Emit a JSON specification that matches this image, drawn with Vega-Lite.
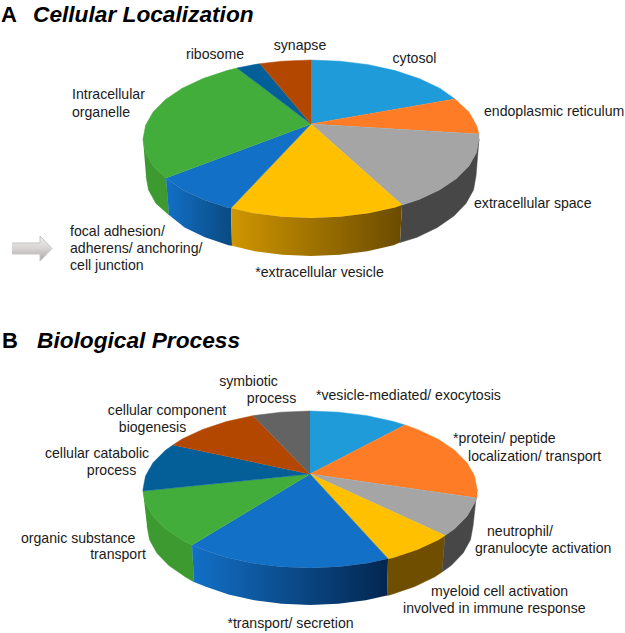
{"$schema":"https://vega.github.io/schema/vega-lite/v6.json","width":625,"height":633,"padding":0,"autosize":{"type":"fit","contains":"padding"},"background":"white","config":{"view":{"stroke":null}},
"datasets":{"shapes":[
{"part":"A green wall","i":1,"x":143,"y":139},{"part":"A green wall","i":2,"x":145.6,"y":152.7},{"part":"A green wall","i":3,"x":153.1,"y":166},{"part":"A green wall","i":4,"x":166,"y":178},{"part":"A green wall","i":5,"x":169,"y":215},{"part":"A green wall","i":6,"x":156,"y":203.4},{"part":"A green wall","i":7,"x":148.5,"y":189.9},{"part":"A green wall","i":8,"x":146,"y":176},
{"part":"A blue wall","i":1,"x":166,"y":178},{"part":"A blue wall","i":2,"x":182.3,"y":189.8},{"part":"A blue wall","i":3,"x":203,"y":199.5},{"part":"A blue wall","i":4,"x":227,"y":207.4},{"part":"A blue wall","i":5,"x":231,"y":208},{"part":"A blue wall","i":6,"x":232,"y":245.8},{"part":"A blue wall","i":7,"x":228.5,"y":245.3},{"part":"A blue wall","i":8,"x":204.9,"y":237.3},{"part":"A blue wall","i":9,"x":184.6,"y":227.4},{"part":"A blue wall","i":10,"x":169,"y":215},
{"part":"A yellow wall","i":1,"x":231,"y":208},{"part":"A yellow wall","i":2,"x":253.5,"y":213.3},{"part":"A yellow wall","i":3,"x":281.8,"y":216.8},{"part":"A yellow wall","i":4,"x":311,"y":218},{"part":"A yellow wall","i":5,"x":340.2,"y":216.8},{"part":"A yellow wall","i":6,"x":368.5,"y":213.3},{"part":"A yellow wall","i":7,"x":395,"y":207.4},{"part":"A yellow wall","i":8,"x":402,"y":205},{"part":"A yellow wall","i":9,"x":400,"y":242.5},{"part":"A yellow wall","i":10,"x":393.5,"y":245.3},{"part":"A yellow wall","i":11,"x":367.4,"y":251.2},{"part":"A yellow wall","i":12,"x":339.7,"y":254.8},{"part":"A yellow wall","i":13,"x":311,"y":256},{"part":"A yellow wall","i":14,"x":282.3,"y":254.8},{"part":"A yellow wall","i":15,"x":254.6,"y":251.2},{"part":"A yellow wall","i":16,"x":232,"y":245.8},
{"part":"A gray wall","i":1,"x":402,"y":205},{"part":"A gray wall","i":2,"x":419,"y":199.5},{"part":"A gray wall","i":3,"x":439.7,"y":189.8},{"part":"A gray wall","i":4,"x":456.5,"y":178.5},{"part":"A gray wall","i":5,"x":468.9,"y":166},{"part":"A gray wall","i":6,"x":476.4,"y":152.7},{"part":"A gray wall","i":7,"x":479,"y":139},{"part":"A gray wall","i":8,"x":476,"y":176},{"part":"A gray wall","i":9,"x":473.5,"y":189.9},{"part":"A gray wall","i":10,"x":466,"y":203.4},{"part":"A gray wall","i":11,"x":453.9,"y":216},{"part":"A gray wall","i":12,"x":437.4,"y":227.4},{"part":"A gray wall","i":13,"x":417.1,"y":237.3},{"part":"A gray wall","i":14,"x":400,"y":242.5},
{"part":"B green wall","i":1,"x":143,"y":491},{"part":"B green wall","i":2,"x":145.5,"y":503.1},{"part":"B green wall","i":3,"x":153,"y":516.3},{"part":"B green wall","i":4,"x":165.4,"y":528.7},{"part":"B green wall","i":5,"x":182.1,"y":540},{"part":"B green wall","i":6,"x":192,"y":545},{"part":"B green wall","i":7,"x":194,"y":582},{"part":"B green wall","i":8,"x":185.1,"y":576.8},{"part":"B green wall","i":9,"x":168.8,"y":565.5},{"part":"B green wall","i":10,"x":156.8,"y":553},{"part":"B green wall","i":11,"x":149.5,"y":539.7},{"part":"B green wall","i":12,"x":147,"y":526},
{"part":"B blue wall","i":1,"x":192,"y":545},{"part":"B blue wall","i":2,"x":202.7,"y":549.6},{"part":"B blue wall","i":3,"x":226.5,"y":557.5},{"part":"B blue wall","i":4,"x":252.9,"y":563.3},{"part":"B blue wall","i":5,"x":281,"y":566.8},{"part":"B blue wall","i":6,"x":310,"y":568},{"part":"B blue wall","i":7,"x":339,"y":566.8},{"part":"B blue wall","i":8,"x":367.1,"y":563.3},{"part":"B blue wall","i":9,"x":388,"y":558.8},{"part":"B blue wall","i":10,"x":387,"y":595.5},{"part":"B blue wall","i":11,"x":365.7,"y":600.2},{"part":"B blue wall","i":12,"x":338.3,"y":603.8},{"part":"B blue wall","i":13,"x":310,"y":605},{"part":"B blue wall","i":14,"x":281.7,"y":603.8},{"part":"B blue wall","i":15,"x":254.3,"y":600.2},{"part":"B blue wall","i":16,"x":228.5,"y":594.4},{"part":"B blue wall","i":17,"x":205.2,"y":586.5},{"part":"B blue wall","i":18,"x":194,"y":582},
{"part":"B yellow wall","i":1,"x":388,"y":558.8},{"part":"B yellow wall","i":2,"x":393.5,"y":557.5},{"part":"B yellow wall","i":3,"x":417.3,"y":549.6},{"part":"B yellow wall","i":4,"x":437.9,"y":540},{"part":"B yellow wall","i":5,"x":445,"y":535.5},{"part":"B yellow wall","i":6,"x":442,"y":572},{"part":"B yellow wall","i":7,"x":434.9,"y":576.8},{"part":"B yellow wall","i":8,"x":414.8,"y":586.5},{"part":"B yellow wall","i":9,"x":391.5,"y":594.4},{"part":"B yellow wall","i":10,"x":387,"y":595.5},
{"part":"B gray wall","i":1,"x":445,"y":535.5},{"part":"B gray wall","i":2,"x":454.6,"y":528.7},{"part":"B gray wall","i":3,"x":467,"y":516.3},{"part":"B gray wall","i":4,"x":474.5,"y":503.1},{"part":"B gray wall","i":5,"x":477,"y":489.5},{"part":"B gray wall","i":6,"x":473,"y":526},{"part":"B gray wall","i":7,"x":470.5,"y":539.7},{"part":"B gray wall","i":8,"x":463.2,"y":553},{"part":"B gray wall","i":9,"x":451.2,"y":565.5},{"part":"B gray wall","i":10,"x":442,"y":572},
{"part":"A cytosol","i":0,"x":311,"y":124},{"part":"A cytosol","i":1,"x":311,"y":60},{"part":"A cytosol","i":2,"x":340.2,"y":61.2},{"part":"A cytosol","i":3,"x":368.5,"y":64.7},{"part":"A cytosol","i":4,"x":395,"y":70.6},{"part":"A cytosol","i":5,"x":419,"y":78.5},{"part":"A cytosol","i":6,"x":439.7,"y":88.2},{"part":"A cytosol","i":7,"x":455,"y":99},
{"part":"A endoplasmic reticulum","i":0,"x":311,"y":124},{"part":"A endoplasmic reticulum","i":1,"x":455,"y":99},{"part":"A endoplasmic reticulum","i":2,"x":468.9,"y":112},{"part":"A endoplasmic reticulum","i":3,"x":476.4,"y":125.3},{"part":"A endoplasmic reticulum","i":4,"x":479,"y":134},
{"part":"A extracellular space","i":0,"x":311,"y":124},{"part":"A extracellular space","i":1,"x":479,"y":134},{"part":"A extracellular space","i":2,"x":479,"y":139},{"part":"A extracellular space","i":3,"x":476.4,"y":152.7},{"part":"A extracellular space","i":4,"x":468.9,"y":166},{"part":"A extracellular space","i":5,"x":456.5,"y":178.5},{"part":"A extracellular space","i":6,"x":439.7,"y":189.8},{"part":"A extracellular space","i":7,"x":419,"y":199.5},{"part":"A extracellular space","i":8,"x":402,"y":205},
{"part":"A extracellular vesicle","i":0,"x":311,"y":124},{"part":"A extracellular vesicle","i":1,"x":402,"y":205},{"part":"A extracellular vesicle","i":2,"x":395,"y":207.4},{"part":"A extracellular vesicle","i":3,"x":368.5,"y":213.3},{"part":"A extracellular vesicle","i":4,"x":340.2,"y":216.8},{"part":"A extracellular vesicle","i":5,"x":311,"y":218},{"part":"A extracellular vesicle","i":6,"x":281.8,"y":216.8},{"part":"A extracellular vesicle","i":7,"x":253.5,"y":213.3},{"part":"A extracellular vesicle","i":8,"x":231,"y":208},
{"part":"A focal adhesion","i":0,"x":311,"y":124},{"part":"A focal adhesion","i":1,"x":231,"y":208},{"part":"A focal adhesion","i":2,"x":227,"y":207.4},{"part":"A focal adhesion","i":3,"x":203,"y":199.5},{"part":"A focal adhesion","i":4,"x":182.3,"y":189.8},{"part":"A focal adhesion","i":5,"x":166,"y":178},
{"part":"A Intracellular organelle","i":0,"x":311,"y":124},{"part":"A Intracellular organelle","i":1,"x":166,"y":178},{"part":"A Intracellular organelle","i":2,"x":153.1,"y":166},{"part":"A Intracellular organelle","i":3,"x":145.6,"y":152.7},{"part":"A Intracellular organelle","i":4,"x":143,"y":139},{"part":"A Intracellular organelle","i":5,"x":145.6,"y":125.3},{"part":"A Intracellular organelle","i":6,"x":153.1,"y":112},{"part":"A Intracellular organelle","i":7,"x":165.5,"y":99.5},{"part":"A Intracellular organelle","i":8,"x":182.3,"y":88.2},{"part":"A Intracellular organelle","i":9,"x":203,"y":78.5},{"part":"A Intracellular organelle","i":10,"x":227,"y":70.6},{"part":"A Intracellular organelle","i":11,"x":237,"y":68},
{"part":"A ribosome","i":0,"x":311,"y":124},{"part":"A ribosome","i":1,"x":237,"y":68},{"part":"A ribosome","i":2,"x":253.5,"y":64.7},{"part":"A ribosome","i":3,"x":260,"y":63.7},
{"part":"A synapse","i":0,"x":311,"y":124},{"part":"A synapse","i":1,"x":260,"y":63.7},{"part":"A synapse","i":2,"x":281.8,"y":61.2},{"part":"A synapse","i":3,"x":311,"y":60},
{"part":"B vesicle-mediated","i":0,"x":310,"y":474},{"part":"B vesicle-mediated","i":1,"x":310,"y":411},{"part":"B vesicle-mediated","i":2,"x":339,"y":412.2},{"part":"B vesicle-mediated","i":3,"x":367.1,"y":415.7},{"part":"B vesicle-mediated","i":4,"x":393.5,"y":421.5},{"part":"B vesicle-mediated","i":5,"x":405,"y":425},
{"part":"B protein","i":0,"x":310,"y":474},{"part":"B protein","i":1,"x":405,"y":425},{"part":"B protein","i":2,"x":417.3,"y":429.4},{"part":"B protein","i":3,"x":437.9,"y":439},{"part":"B protein","i":4,"x":454.6,"y":450.3},{"part":"B protein","i":5,"x":467,"y":462.7},{"part":"B protein","i":6,"x":474.5,"y":475.9},{"part":"B protein","i":7,"x":477,"y":489.5},{"part":"B protein","i":8,"x":477,"y":498},
{"part":"B neutrophil","i":0,"x":310,"y":474},{"part":"B neutrophil","i":1,"x":477,"y":498},{"part":"B neutrophil","i":2,"x":474.5,"y":503.1},{"part":"B neutrophil","i":3,"x":467,"y":516.3},{"part":"B neutrophil","i":4,"x":454.6,"y":528.7},{"part":"B neutrophil","i":5,"x":445,"y":535.5},
{"part":"B myeloid","i":0,"x":310,"y":474},{"part":"B myeloid","i":1,"x":445,"y":535.5},{"part":"B myeloid","i":2,"x":437.9,"y":540},{"part":"B myeloid","i":3,"x":417.3,"y":549.6},{"part":"B myeloid","i":4,"x":393.5,"y":557.5},{"part":"B myeloid","i":5,"x":388,"y":558.8},
{"part":"B transport","i":0,"x":310,"y":474},{"part":"B transport","i":1,"x":388,"y":558.8},{"part":"B transport","i":2,"x":367.1,"y":563.3},{"part":"B transport","i":3,"x":339,"y":566.8},{"part":"B transport","i":4,"x":310,"y":568},{"part":"B transport","i":5,"x":281,"y":566.8},{"part":"B transport","i":6,"x":252.9,"y":563.3},{"part":"B transport","i":7,"x":226.5,"y":557.5},{"part":"B transport","i":8,"x":202.7,"y":549.6},{"part":"B transport","i":9,"x":192,"y":545},
{"part":"B organic substance","i":0,"x":310,"y":474},{"part":"B organic substance","i":1,"x":192,"y":545},{"part":"B organic substance","i":2,"x":182.1,"y":540},{"part":"B organic substance","i":3,"x":165.4,"y":528.7},{"part":"B organic substance","i":4,"x":153,"y":516.3},{"part":"B organic substance","i":5,"x":145.5,"y":503.1},{"part":"B organic substance","i":6,"x":143,"y":491},
{"part":"B catabolic","i":0,"x":310,"y":474},{"part":"B catabolic","i":1,"x":143,"y":491},{"part":"B catabolic","i":2,"x":143,"y":489.5},{"part":"B catabolic","i":3,"x":145.5,"y":475.9},{"part":"B catabolic","i":4,"x":153,"y":462.7},{"part":"B catabolic","i":5,"x":165.4,"y":450.3},{"part":"B catabolic","i":6,"x":173,"y":445},
{"part":"B biogenesis","i":0,"x":310,"y":474},{"part":"B biogenesis","i":1,"x":173,"y":445},{"part":"B biogenesis","i":2,"x":182.1,"y":439},{"part":"B biogenesis","i":3,"x":202.7,"y":429.4},{"part":"B biogenesis","i":4,"x":226.5,"y":421.5},{"part":"B biogenesis","i":5,"x":252.9,"y":415.7},
{"part":"B symbiotic","i":0,"x":310,"y":474},{"part":"B symbiotic","i":1,"x":252.9,"y":415.7},{"part":"B symbiotic","i":2,"x":281,"y":412.2},{"part":"B symbiotic","i":3,"x":310,"y":411},
{"part":"arrow","i":1,"x":12,"y":243},{"part":"arrow","i":2,"x":40,"y":243},{"part":"arrow","i":3,"x":40,"y":236},{"part":"arrow","i":4,"x":52,"y":248.5},{"part":"arrow","i":5,"x":40,"y":261},{"part":"arrow","i":6,"x":40,"y":254},{"part":"arrow","i":7,"x":12,"y":254}
],
"labels":[
{"t":"synapse","x":300,"y":46,"a":"center"},{"t":"ribosome","x":215,"y":55,"a":"center"},{"t":"cytosol","x":414.5,"y":59,"a":"center"},{"t":"endoplasmic reticulum","x":484,"y":112,"a":"left"},{"t":"extracellular space","x":474,"y":204,"a":"left"},{"t":"Intracellular","x":72,"y":95,"a":"left"},{"t":"organelle","x":72,"y":113,"a":"left"},{"t":"focal adhesion/","x":70,"y":232,"a":"left"},{"t":"adherens/ anchoring/","x":70,"y":249,"a":"left"},{"t":"cell junction","x":70,"y":266,"a":"left"},{"t":"*extracellular vesicle","x":319.5,"y":273,"a":"center"},
{"t":"symbiotic","x":248.5,"y":382,"a":"center"},{"t":"process","x":271.5,"y":399,"a":"center"},{"t":"*vesicle-mediated/ exocytosis","x":316,"y":396,"a":"left"},{"t":"cellular component","x":167,"y":411,"a":"center"},{"t":"biogenesis","x":152.5,"y":428,"a":"center"},{"t":"cellular catabolic","x":97,"y":454,"a":"center"},{"t":"process","x":111.5,"y":471,"a":"center"},{"t":"*protein/ peptide","x":453,"y":439,"a":"left"},{"t":"localization/ transport","x":468,"y":457,"a":"left"},{"t":"neutrophil/","x":487,"y":532,"a":"left"},{"t":"granulocyte activation","x":475,"y":549,"a":"left"},{"t":"organic substance","x":21,"y":539,"a":"left"},{"t":"transport","x":118,"y":555,"a":"center"},{"t":"myeloid cell activation","x":431,"y":592,"a":"left"},{"t":"involved in immune response","x":403,"y":609,"a":"left"},{"t":"*transport/ secretion","x":290.5,"y":624,"a":"center"}
],
"letters":[{"t":"A","x":1,"y":15},{"t":"B","x":2,"y":341}],
"titles":[{"t":"Cellular Localization","x":33,"y":15},{"t":"Biological Process","x":37,"y":341}]
},
"layer":[
{"data":{"name":"shapes"},"transform":[{"filter":"indexof(['A blue wall','A yellow wall','B blue wall','arrow'],datum.part)<0"}],
"mark":{"type":"line","strokeWidth":0.5},
"encoding":{"x":{"field":"x","type":"quantitative","scale":{"domain":[0,625],"nice":false,"zero":false},"axis":null},"y":{"field":"y","type":"quantitative","scale":{"domain":[633,0],"nice":false,"zero":false},"axis":null},"detail":{"field":"part"},"order":{"field":"i"},
"fill":{"field":"part","legend":null,"scale":{"domain":["A green wall","A gray wall","B green wall","B yellow wall","B gray wall","A cytosol","A endoplasmic reticulum","A extracellular space","A extracellular vesicle","A focal adhesion","A Intracellular organelle","A ribosome","A synapse","B vesicle-mediated","B protein","B neutrophil","B myeloid","B transport","B organic substance","B catabolic","B biogenesis","B symbiotic"],"range":["#3c9a30","#474747","#3c9a30","#6f4e00","#474747","#1f9bd9","#fe7c25","#a5a5a5","#ffc000","#1270c7","#43ad3b","#045f98","#b34700","#1f9bd9","#fe7c25","#a5a5a5","#ffc000","#1270c7","#43ad3b","#045f98","#b34700","#636363"]}},
"stroke":{"field":"part","legend":null,"scale":{"domain":["A green wall","A gray wall","B green wall","B yellow wall","B gray wall","A cytosol","A endoplasmic reticulum","A extracellular space","A extracellular vesicle","A focal adhesion","A Intracellular organelle","A ribosome","A synapse","B vesicle-mediated","B protein","B neutrophil","B myeloid","B transport","B organic substance","B catabolic","B biogenesis","B symbiotic"],"range":["#3c9a30","#474747","#3c9a30","#6f4e00","#474747","#1f9bd9","#fe7c25","#a5a5a5","#ffc000","#1270c7","#43ad3b","#045f98","#b34700","#1f9bd9","#fe7c25","#a5a5a5","#ffc000","#1270c7","#43ad3b","#045f98","#b34700","#636363"]}}}},
{"data":{"name":"shapes"},"transform":[{"filter":"datum.part==='A blue wall'"}],
"mark":{"type":"line","stroke":null,"fill":{"gradient":"linear","x1":0,"x2":1,"y1":0,"y2":0,"stops":[{"offset":0,"color":"#1270c7"},{"offset":1,"color":"#0a4a80"}]}},
"encoding":{"x":{"field":"x","type":"quantitative"},"y":{"field":"y","type":"quantitative"},"order":{"field":"i"}}},
{"data":{"name":"shapes"},"transform":[{"filter":"datum.part==='A yellow wall'"}],
"mark":{"type":"line","stroke":null,"fill":{"gradient":"linear","x1":0,"x2":1,"y1":0,"y2":0,"stops":[{"offset":0,"color":"#cf9600"},{"offset":1,"color":"#6b4b00"}]}},
"encoding":{"x":{"field":"x","type":"quantitative"},"y":{"field":"y","type":"quantitative"},"order":{"field":"i"}}},
{"data":{"name":"shapes"},"transform":[{"filter":"datum.part==='B blue wall'"}],
"mark":{"type":"line","stroke":null,"fill":{"gradient":"linear","x1":0,"x2":1,"y1":0,"y2":0,"stops":[{"offset":0,"color":"#1270c7"},{"offset":1,"color":"#04264f"}]}},
"encoding":{"x":{"field":"x","type":"quantitative"},"y":{"field":"y","type":"quantitative"},"order":{"field":"i"}}},
{"data":{"name":"shapes"},"transform":[{"filter":"datum.part==='arrow'"}],
"mark":{"type":"line","strokeWidth":1,"stroke":"#c9c5c5","fill":{"gradient":"linear","x1":0,"x2":0,"y1":0,"y2":1,"stops":[{"offset":0,"color":"#f0eeee"},{"offset":0.5,"color":"#d8d4d4"},{"offset":1,"color":"#a8a4a4"}]}},
"encoding":{"x":{"field":"x","type":"quantitative"},"y":{"field":"y","type":"quantitative"},"order":{"field":"i"}}},
{"data":{"name":"labels"},"transform":[{"filter":"datum.a==='left'"}],"mark":{"type":"text","font":"Liberation Sans","fontSize":14.1,"baseline":"middle","align":"left","color":"#1a1a1a"},
"encoding":{"x":{"field":"x","type":"quantitative"},"y":{"field":"y","type":"quantitative"},"text":{"field":"t"}}},
{"data":{"name":"labels"},"transform":[{"filter":"datum.a==='center'"}],"mark":{"type":"text","font":"Liberation Sans","fontSize":14.1,"baseline":"middle","align":"center","color":"#1a1a1a"},
"encoding":{"x":{"field":"x","type":"quantitative"},"y":{"field":"y","type":"quantitative"},"text":{"field":"t"}}},
{"data":{"name":"letters"},"mark":{"type":"text","font":"Liberation Sans","fontSize":22,"fontWeight":"bold","baseline":"middle","align":"left","color":"#000000"},
"encoding":{"x":{"field":"x","type":"quantitative"},"y":{"field":"y","type":"quantitative"},"text":{"field":"t"}}},
{"data":{"name":"titles"},"mark":{"type":"text","font":"Liberation Sans","fontSize":22.7,"fontWeight":"bold","fontStyle":"italic","baseline":"middle","align":"left","color":"#000000"},
"encoding":{"x":{"field":"x","type":"quantitative"},"y":{"field":"y","type":"quantitative"},"text":{"field":"t"}}}
]}
